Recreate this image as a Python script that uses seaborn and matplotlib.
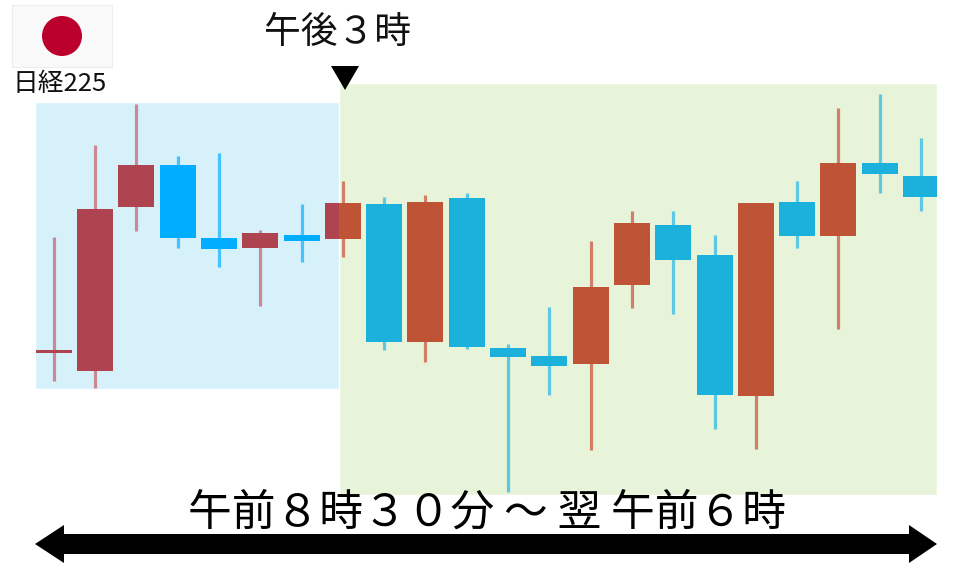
import matplotlib
matplotlib.use("Agg")
import matplotlib.pyplot as plt
from matplotlib.patches import Circle, Polygon, Rectangle
import pandas as pd
import seaborn as sns

W, H, DPI = 960, 567, 100

# candle values (chart has no price axis, units are arbitrary)
highs = [330, 422, 463, 411, 414, 337, 363, 386, 370, 372, 374, 223, 260, 326, 356, 356, 332, 364, 386, 459, 473, 429]
lows = [186, 179, 336, 319, 300, 261, 305, 310, 217, 205, 218, 75, 172, 117, 259, 253, 138, 118, 319, 238, 374, 356]
body_tops = [217, 358, 402, 402, 329, 334, 332, 364, 363, 365, 369, 219, 211, 280, 344, 342, 312, 364, 365, 404, 404, 391]
body_bottoms = [214, 196, 360, 329, 318, 319, 326, 328, 225, 225, 220, 210, 201, 203, 282, 307, 172, 171, 331, 331, 393, 370]
colors = ["r", "r", "r", "b", "b", "r", "b", "r", "b", "r", "b", "b", "b", "r", "r", "b", "b", "r", "b", "r", "b", "b"]

TITLE_3PM = "午後３時"
TITLE_RANGE = "午前８時３０分 ～ 翌 午前６時"
INDEX_NAME = "日経225"

# candle 0 sits at x=54px, candles are 41.3px apart
X0, STEP = 53.7, 41.3
BODY_PX, WICK_PX = 36, 3.2

sns.set_theme(style="white")
plt.rcParams["font.family"] = ["Noto Sans CJK JP", "DejaVu Sans"]

df = pd.DataFrame({
    "i": range(len(highs)),
    "high": highs, "low": lows, "top": body_tops, "bottom": body_bottoms,
    "c": colors,
})
wicks = df.melt(id_vars=["i", "c"], value_vars=["high", "low"], value_name="price")
bodies = df.melt(id_vars=["i", "c"], value_vars=["top", "bottom"], value_name="price")


def add_region(fig, x0, x1, y0, y1, face, wick_pal, body_pal):
    ax = fig.add_axes([x0 / W, 1 - y1 / H, (x1 - x0) / W, (y1 - y0) / H], facecolor=face)
    sns.lineplot(data=wicks, x="i", y="price", hue="c", units="i", estimator=None,
                 palette=wick_pal, linewidth=WICK_PX * 72 / DPI, legend=False, ax=ax,
                 solid_capstyle="butt")
    sns.lineplot(data=bodies, x="i", y="price", hue="c", units="i", estimator=None,
                 palette=body_pal, linewidth=BODY_PX * 72 / DPI, legend=False, ax=ax,
                 solid_capstyle="butt")
    ax.set_xlim((x0 - X0) / STEP, (x1 - X0) / STEP)
    ax.set_ylim(H - y1, H - y0)
    ax.set_axis_off()
    ax.add_patch(Rectangle((0, 0), 1, 1, transform=ax.transAxes, facecolor=face, zorder=0))
    return ax


fig = plt.figure(figsize=(W / DPI, H / DPI), dpi=DPI, facecolor="white")

add_region(fig, 35.4, 339.4, 102.3, 388.6, "#D7F1FB",
           {"r": "#C98A94", "b": "#45C3FF"}, {"r": "#AE4450", "b": "#00ADFF"})
add_region(fig, 339.4, 936.6, 83.3, 494.6, "#E8F4DA",
           {"r": "#CF8066", "b": "#5CC8E2"}, {"r": "#BF5335", "b": "#1CB0DC"})

# overlay in pixel coordinates for flag, labels and arrows
over = fig.add_axes([0, 0, 1, 1], facecolor="none", zorder=5)
over.set_xlim(0, W)
over.set_ylim(H, 0)
over.set_axis_off()

over.add_patch(Rectangle((11.6, 4.6), 100, 62, facecolor="#F9F9F9", edgecolor="#EDEDED", linewidth=0.8))
over.add_patch(Circle((62, 36), 20, facecolor="#BC002D", edgecolor="none"))
over.text(60, 84, INDEX_NAME, ha="center", va="center", fontsize=18.5, color="#111111")

over.text(338, 32, TITLE_3PM, ha="center", va="center", fontsize=26.5, color="#111111")
over.add_patch(Polygon([(331, 66), (359, 66), (345, 90)], facecolor="black", edgecolor="none"))

over.text(487, 513, TITLE_RANGE, ha="center", va="center", fontsize=31.5, color="black")
over.add_patch(Polygon([(35, 544), (64, 525), (64, 534), (909, 534), (909, 525), (937, 544),
                        (909, 563), (909, 554), (64, 554), (64, 563)],
                       facecolor="black", edgecolor="none"))

fig.savefig("out.png", dpi=DPI)
